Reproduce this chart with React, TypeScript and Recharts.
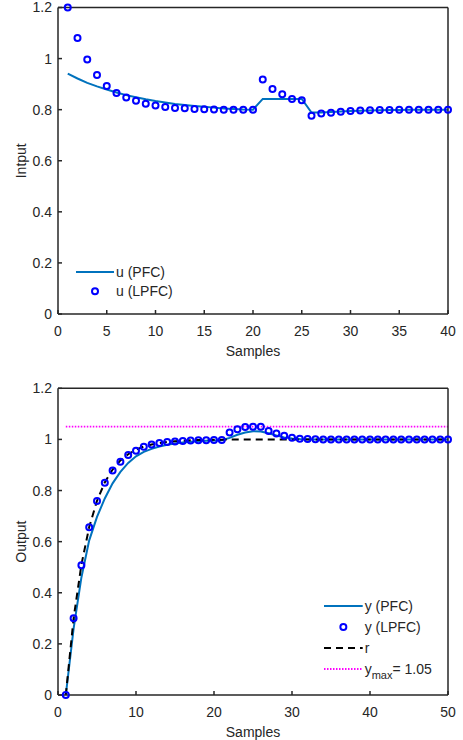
import { Legend, Line, LineChart, XAxis, YAxis } from "recharts";

const inputSamples = [
  1, 2, 3, 4, 5, 6, 7, 8, 9, 10, 11, 12, 13, 14, 15, 16, 17, 18, 19, 20,
  21, 22, 23, 24, 25, 26, 27, 28, 29, 30, 31, 32, 33, 34, 35, 36, 37, 38, 39, 40,
];
const uPfc = [
  0.941, 0.922, 0.905, 0.891, 0.879, 0.867, 0.857, 0.849, 0.841, 0.834,
  0.828, 0.822, 0.818, 0.814, 0.811, 0.808, 0.805, 0.803, 0.801, 0.8,
  0.842, 0.842, 0.842, 0.842, 0.842, 0.789, 0.789, 0.791, 0.793, 0.795,
  0.796, 0.797, 0.798, 0.799, 0.799, 0.8, 0.8, 0.8, 0.8, 0.8,
];
const uLpfc = [
  1.2, 1.081, 0.996, 0.936, 0.893, 0.865, 0.848, 0.835, 0.823, 0.816,
  0.81, 0.807, 0.806, 0.803, 0.802, 0.801, 0.8, 0.8, 0.8, 0.8,
  0.918, 0.881, 0.86, 0.842, 0.837, 0.776, 0.785, 0.788, 0.792, 0.795,
  0.797, 0.798, 0.799, 0.799, 0.8, 0.8, 0.8, 0.8, 0.8, 0.8,
];

const outputSamples = [
  1, 2, 3, 4, 5, 6, 7, 8, 9, 10, 11, 12, 13, 14, 15, 16, 17, 18, 19, 20,
  21, 22, 23, 24, 25, 26, 27, 28, 29, 30, 31, 32, 33, 34, 35, 36, 37, 38, 39, 40,
  41, 42, 43, 44, 45, 46, 47, 48, 49, 50,
];
const yPfc = [
  0, 0.26, 0.46, 0.605, 0.697, 0.769, 0.828, 0.873, 0.908, 0.934,
  0.951, 0.963, 0.972, 0.979, 0.984, 0.988, 0.991, 0.993, 0.995, 0.996,
  0.997, 1.006, 1.018, 1.027, 1.032, 1.031, 1.024, 1.015, 1.008, 1.004,
  1.002, 1.001, 1, 1, 1, 1, 1, 1, 1, 1,
  1, 1, 1, 1, 1, 1, 1, 1, 1, 1,
];
const yLpfc = [
  0, 0.3, 0.508, 0.656, 0.759, 0.83, 0.878, 0.913, 0.939, 0.956,
  0.971, 0.98, 0.986, 0.99, 0.992, 0.994, 0.996, 0.997, 0.997, 0.998,
  0.998, 1.027, 1.04, 1.049, 1.05, 1.05, 1.033, 1.023, 1.014, 1.007,
  1.003, 1.002, 1.001, 1, 1, 1, 1, 1, 1, 1,
  1, 1, 1, 1, 1, 1, 1, 1, 1, 1,
];
const reference = [
  0, 0.3, 0.51, 0.657, 0.76, 0.832, 0.882, 0.918, 0.942, 0.96,
  0.972, 0.98, 0.986, 0.99, 0.993, 0.995, 0.997, 0.998, 0.998, 0.999,
  0.999, 1, 1, 1, 1, 1, 1, 1, 1, 1,
  1, 1, 1, 1, 1, 1, 1, 1, 1, 1,
  1, 1, 1, 1, 1, 1, 1, 1, 1, 1,
];
const yMax = [
  1.05, 1.05, 1.05, 1.05, 1.05, 1.05, 1.05, 1.05, 1.05, 1.05,
  1.05, 1.05, 1.05, 1.05, 1.05, 1.05, 1.05, 1.05, 1.05, 1.05,
  1.05, 1.05, 1.05, 1.05, 1.05, 1.05, 1.05, 1.05, 1.05, 1.05,
  1.05, 1.05, 1.05, 1.05, 1.05, 1.05, 1.05, 1.05, 1.05, 1.05,
  1.05, 1.05, 1.05, 1.05, 1.05, 1.05, 1.05, 1.05, 1.05, 1.05,
];

const inputXTicks = [0, 5, 10, 15, 20, 25, 30, 35, 40];
const outputXTicks = [0, 10, 20, 30, 40, 50];
const yTicks = [0, 0.2, 0.4, 0.6, 0.8, 1, 1.2];

const FONT = "'Liberation Sans', Arial, Helvetica, sans-serif";
const INK = "#262626";
const PFC_BLUE = "#0072BD";
const MARK_BLUE = "#0000FF";

type LegendItem = {
  kind: "line" | "marker";
  label: React.ReactNode;
  color: string;
  dash?: string;
};

function LegendBox({ items, rowGap, lineLen }: { items: LegendItem[]; rowGap: number; lineLen: number }) {
  return (
    <svg width={150} height={items.length * rowGap + 10} style={{ display: "block", overflow: "visible" }}>
      {items.map((it, i) => {
        const y = 10 + i * rowGap;
        return (
          <g key={i}>
            {it.kind === "marker" ? (
              <circle cx={lineLen / 2} cy={y} r={3} fill="none" stroke={it.color} strokeWidth={2} />
            ) : (
              <line
                x1={0}
                x2={lineLen}
                y1={y}
                y2={y}
                stroke={it.color}
                strokeWidth={it.dash === "1.5 1.5" ? 1.8 : 2}
                strokeDasharray={it.dash}
              />
            )}
            <text x={lineLen + 2} y={y + 5} fontSize={14} fontFamily={FONT} fill={INK}>
              {it.label}
            </text>
          </g>
        );
      })}
    </svg>
  );
}

const xTitle = (props: any) => {
  const vb = props.viewBox || {};
  return (
    <text
      x={vb.x + vb.width / 2}
      y={vb.y + 36.5}
      textAnchor="middle"
      dominantBaseline="central"
      fontSize={14}
      fontFamily={FONT}
      fill={INK}
    >
      Samples
    </text>
  );
};

const yTitle = (text: string) => (props: any) => {
  const vb = props.viewBox || {};
  const x = 20.7;
  const y = vb.y + vb.height / 2;
  return (
    <text
      x={x}
      y={y}
      transform={`rotate(-90 ${x} ${y})`}
      textAnchor="middle"
      dominantBaseline="central"
      fontSize={14}
      fontFamily={FONT}
      fill={INK}
    >
      {text}
    </text>
  );
};

const axisLine = { stroke: INK, strokeWidth: 1.5 };
const tickLine = { stroke: INK, strokeWidth: 1.5 };
const tickText = { fill: INK, fontSize: 14, fontFamily: FONT };
const circleDot = { r: 3, stroke: MARK_BLUE, strokeWidth: 2, fill: "none" };

export default function App() {
  const inputData = inputSamples.map((k, i) => ({ k, pfc: uPfc[i], lpfc: uLpfc[i] }));
  const outputData = outputSamples.map((k, i) => ({
    k,
    pfc: yPfc[i],
    lpfc: yLpfc[i],
    r: reference[i],
    ymax: yMax[i],
  }));

  const inputLegend: LegendItem[] = [
    { kind: "line", label: "u (PFC)", color: PFC_BLUE },
    { kind: "marker", label: "u (LPFC)", color: MARK_BLUE },
  ];
  const outputLegend: LegendItem[] = [
    { kind: "line", label: "y (PFC)", color: PFC_BLUE },
    { kind: "marker", label: "y (LPFC)", color: MARK_BLUE },
    { kind: "line", label: "r", color: "#000000", dash: "7 5" },
    {
      kind: "line",
      label: (
        <>
          <tspan>y</tspan>
          <tspan dy={5} fontSize={11}>max</tspan>
          <tspan dy={-5}>= 1.05</tspan>
        </>
      ),
      color: "#FF00FF",
      dash: "1.5 1.5",
    },
  ];

  return (
    <div style={{ position: "absolute", left: 0, top: 0, width: 463, height: 740, background: "#fff" }}>
      <div style={{ position: "absolute", left: 0, top: 0 }}>
        <LineChart
          width={463}
          height={360}
          data={inputData}
          margin={{ top: 6.5, right: 14, bottom: 16, left: 8 }}
        >
          <XAxis
            dataKey="k"
            type="number"
            domain={[0, 40]}
            ticks={inputXTicks}
            interval={0}
            height={30}
            axisLine={axisLine}
            tickLine={tickLine}
            tickSize={-4}
            tickMargin={16}
            tick={tickText}
            label={{ content: xTitle }}
          />
          <XAxis
            xAxisId="top"
            orientation="top"
            dataKey="k"
            type="number"
            domain={[0, 40]}
            ticks={inputXTicks}
            interval={0}
            height={1}
            axisLine={axisLine}
            tickLine={tickLine}
            tickSize={-4}
            tick={false}
          />
          <YAxis
            type="number"
            domain={[0, 1.2]}
            ticks={yTicks}
            interval={0}
            width={50}
            axisLine={axisLine}
            tickLine={tickLine}
            tickSize={-4}
            tickMargin={10}
            tick={tickText}
            label={{ content: yTitle("Intput") }}
          />
          <YAxis
            yAxisId="right"
            orientation="right"
            type="number"
            domain={[0, 1.2]}
            ticks={yTicks}
            interval={0}
            width={1}
            axisLine={axisLine}
            tickLine={tickLine}
            tickSize={-4}
            tick={false}
          />
          <Line
            type="linear"
            dataKey="pfc"
            stroke={PFC_BLUE}
            strokeWidth={2}
            dot={false}
            isAnimationActive={false}
          />
          <Line
            type="linear"
            dataKey="lpfc"
            stroke="none"
            dot={circleDot}
            isAnimationActive={false}
          />
          <Legend
            layout="vertical"
            align="center"
            verticalAlign="middle"
            wrapperStyle={{ left: 76, top: 261.5, width: 150 }}
            content={() => <LegendBox items={inputLegend} rowGap={19.2} lineLen={38} />}
          />
        </LineChart>
      </div>

      <div style={{ position: "absolute", left: 0, top: 370 }}>
        <LineChart
          width={463}
          height={370}
          data={outputData}
          margin={{ top: 17.3, right: 14, bottom: 15, left: 8 }}
        >
          <XAxis
            dataKey="k"
            type="number"
            domain={[0, 50]}
            ticks={outputXTicks}
            interval={0}
            height={30}
            axisLine={axisLine}
            tickLine={tickLine}
            tickSize={-4}
            tickMargin={16}
            tick={tickText}
            label={{ content: xTitle }}
          />
          <XAxis
            xAxisId="top"
            orientation="top"
            dataKey="k"
            type="number"
            domain={[0, 50]}
            ticks={outputXTicks}
            interval={0}
            height={1}
            axisLine={axisLine}
            tickLine={tickLine}
            tickSize={-4}
            tick={false}
          />
          <YAxis
            type="number"
            domain={[0, 1.2]}
            ticks={yTicks}
            interval={0}
            width={50}
            axisLine={axisLine}
            tickLine={tickLine}
            tickSize={-4}
            tickMargin={10}
            tick={tickText}
            label={{ content: yTitle("Output") }}
          />
          <YAxis
            yAxisId="right"
            orientation="right"
            type="number"
            domain={[0, 1.2]}
            ticks={yTicks}
            interval={0}
            width={1}
            axisLine={axisLine}
            tickLine={tickLine}
            tickSize={-4}
            tick={false}
          />
          <Line
            type="linear"
            dataKey="ymax"
            stroke="#FF00FF"
            strokeWidth={1.8}
            strokeDasharray="1.5 1.5"
            dot={false}
            isAnimationActive={false}
          />
          <Line
            type="linear"
            dataKey="pfc"
            stroke={PFC_BLUE}
            strokeWidth={2}
            dot={false}
            isAnimationActive={false}
          />
          <Line
            type="linear"
            dataKey="lpfc"
            stroke="none"
            dot={circleDot}
            isAnimationActive={false}
          />
          <Line
            type="linear"
            dataKey="r"
            stroke="#000000"
            strokeWidth={2}
            strokeDasharray="7 5"
            dot={false}
            isAnimationActive={false}
          />
          <Legend
            layout="vertical"
            align="center"
            verticalAlign="middle"
            wrapperStyle={{ left: 324, top: 225.7, width: 150 }}
            content={() => <LegendBox items={outputLegend} rowGap={21} lineLen={38.7} />}
          />
        </LineChart>
      </div>
    </div>
  );
}
